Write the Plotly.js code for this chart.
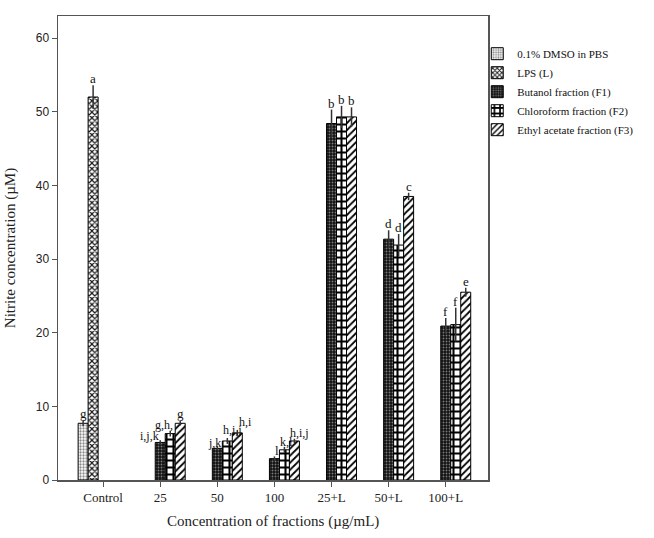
<!DOCTYPE html>
<html>
<head>
<meta charset="utf-8">
<script src="https://cdn.plot.ly/plotly-3.0.1.min.js"></script>
<style>html,body{margin:0;padding:0;background:#fff;}#chart{width:654px;height:538px;}</style>
</head>
<body>
<div id="chart"></div>
<script>
const categories = ["Control", "25", "50", "100", "25+L", "50+L", "100+L"];
const seriesNames = ["0.1% DMSO in PBS", "LPS (L)", "Butanol fraction (F1)", "Chloroform fraction (F2)", "Ethyl acetate fraction (F3)"];

const dmso     = [7.7, null, null, null, null, null, null];
const lps      = [52.0, null, null, null, null, null, null];
const butanol  = [null, 5.1, 4.3, 2.9, 48.4, 32.7, 20.9];
const chloro   = [null, 6.3, 5.3, 4.1, 49.3, 31.9, 21.1];
const ethyl    = [null, 7.7, 6.4, 5.3, 49.3, 38.5, 25.5];

const dmsoErr    = [0.4, 0, 0, 0, 0, 0, 0];
const lpsErr     = [1.6, 0, 0, 0, 0, 0, 0];
const butanolErr = [0, 0.3, 0.3, 0.3, 1.9, 1.2, 1.1];
const chloroErr  = [0, 0.4, 0.4, 0.4, 1.5, 1.5, 2.3];
const ethylErr   = [0, 0.3, 0.4, 0.3, 1.3, 0.5, 0.6];

const dmsoLetters    = ["g", "", "", "", "", "", ""];
const lpsLetters     = ["a", "", "", "", "", "", ""];
const butanolLetters = ["", "i,j,k", "j,k", "l", "b", "d", "f"];
const chloroLetters  = ["", "g,h,", "h,i,j", "k,l", "b", "d", "f"];
const ethylLetters   = ["", "g", "h,i", "h,i,j", "b", "c", "e"];

const values = [dmso, lps, butanol, chloro, ethyl];
const errs = [dmsoErr, lpsErr, butanolErr, chloroErr, ethylErr];
const letters = [dmsoLetters, lpsLetters, butanolLetters, chloroLetters, ethylLetters];

// label nudges (pixels) relative to bar centre, styling only
const labelDx = [
  [0, 0, 0, 0, 0, 0, 0],
  [0, 0, 0, 0, 0, 0, 0],
  [0, -11, -3, 3, 0, 0, 0],
  [0, -6, 5, 2, 0, 0, 0],
  [0, 0, 8, 5, 0, 0, 0]
];
const labelDy = [
  [0, 0, 0, 0, 0, 0, 0],
  [0, 0, 0, 0, 0, 0, 0],
  [0, -2, -3, -1, 0, 0, 0],
  [0, 0, 2, -1, 0, 0, 0],
  [0, 1, 2, 0, 0, 0, 0]
];

const patterns = [
  {shape: ".", bgcolor: "#ffffff", fgcolor: "#8a8a8a", size: 3, solidity: 0.45},
  {shape: "x", bgcolor: "#ffffff", fgcolor: "#1a1a1a", size: 4, solidity: 0.5},
  {shape: ".", bgcolor: "#111111", fgcolor: "#7a7a7a", size: 3, solidity: 0.3},
  {shape: "+", bgcolor: "#ffffff", fgcolor: "#000000", size: 7, solidity: 0.5},
  {shape: "/", bgcolor: "#ffffff", fgcolor: "#000000", size: 5, solidity: 0.35}
];

const serif = "Liberation Serif, Times New Roman, serif";

const traces = seriesNames.map((name, i) => ({
  type: "bar",
  name: name,
  x: categories,
  y: values[i],
  marker: {color: patterns[i].bgcolor, pattern: patterns[i], line: {color: "#000", width: 1}},
  error_y: {type: "data", array: errs[i], visible: true, color: "#333", thickness: 1.5, width: 0}
}));

// geometry for label offsets
const xRange = [-0.79, 6.74];
const plotW = 654 - 58 - 166;
const pxPerCat = plotW / (xRange[1] - xRange[0]);
const bargap = 0.125;
const barPx = pxPerCat * (1 - bargap) / seriesNames.length;

const annotations = [];
for (let i = 0; i < seriesNames.length; i++) {
  for (let j = 0; j < categories.length; j++) {
    const t = letters[i][j];
    if (!t || values[i][j] == null) continue;
    const multi = t.length > 1;
    annotations.push({
      x: j, y: values[i][j] + errs[i][j],
      xref: "x", yref: "y",
      text: t, showarrow: false,
      xanchor: "center", yanchor: "bottom",
      xshift: (i - 2) * barPx + labelDx[i][j], yshift: -2 + labelDy[i][j],
      borderpad: 0,
      font: {family: serif, size: multi ? 12 : 13, color: "#111"}
    });
  }
}

annotations.push({
  x: 0.5, y: -0.066, xref: "paper", yref: "paper", showarrow: false,
  text: "Concentration of fractions (µg/mL)", xanchor: "center", yanchor: "top",
  font: {family: serif, size: 15, color: "#222"}
});

const layout = {
  width: 654, height: 538,
  margin: {l: 58, r: 166, t: 16, b: 58},
  paper_bgcolor: "#fff", plot_bgcolor: "#fff",
  barmode: "group", bargap: bargap, bargroupgap: 0,
  showlegend: true,
  legend: {x: 0.975, y: 0.95, xanchor: "left", yanchor: "top",
           font: {family: serif, size: 11, color: "#111"}, bgcolor: "rgba(0,0,0,0)",
           tracegroupgap: 0, itemwidth: 30, borderwidth: 0},
  xaxis: {
    type: "category", range: xRange, showgrid: false, zeroline: false,
    showline: true, linecolor: "#555", linewidth: 1.5, mirror: true,
    ticks: "outside", ticklen: 5, tickcolor: "#555",
    tickfont: {family: serif, size: 13, color: "#222"}
  },
  yaxis: {
    range: [0, 63], dtick: 10, showgrid: false, zeroline: false,
    showline: true, linecolor: "#555", linewidth: 1.5, mirror: true,
    ticks: "outside", ticklen: 5, tickcolor: "#555",
    tickfont: {family: "Liberation Sans, Arial, sans-serif", size: 12, color: "#222"},
    title: {text: "Nitrite concentration (µM)", font: {family: serif, size: 15, color: "#222"}, standoff: 16}
  },
  annotations: annotations
};

Plotly.newPlot("chart", traces, layout, {displayModeBar: false, staticPlot: true});
</script>
</body>
</html>
